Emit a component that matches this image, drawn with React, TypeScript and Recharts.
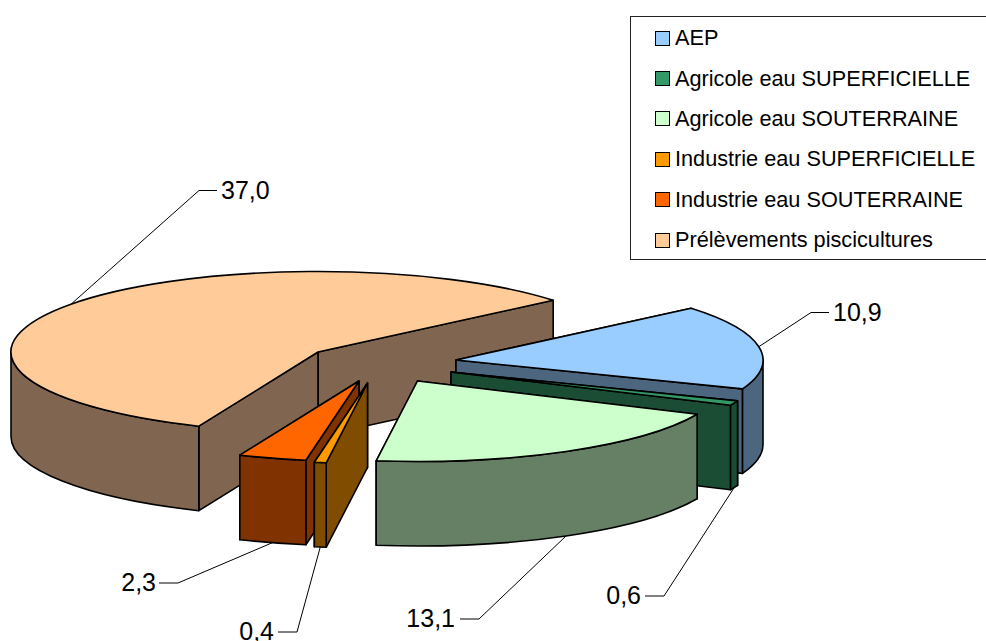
import React from 'react';
import { PieChart, Pie, Legend } from 'recharts';

// Water withdrawal shares, in legend order
const categories = [
  'AEP',
  'Agricole eau SUPERFICIELLE',
  'Agricole eau SOUTERRAINE',
  'Industrie eau SUPERFICIELLE',
  'Industrie eau SOUTERRAINE',
  'Prélèvements piscicultures',
];
const values = [10.9, 0.6, 13.1, 0.4, 2.3, 37.0];
const valueLabels = ['10,9', '0,6', '13,1', '0,4', '2,3', '37,0'];
const topColors = ['#99CCFF', '#339966', '#CCFFCC', '#FF9900', '#FF6600', '#FFCC99'];
const wallColors = ['#4D6680', '#1A4D33', '#668066', '#804D00', '#803300', '#806650'];

// Tilted-disc projection and per-slice explosion, relative to the pie centre
const RX = 307;
const TILT = 80.5 / 307;
const DEPTH = 84.5;
const explode = [
  [138, 8],
  [133, 20],
  [99.5, 29],
  [49.5, 31],
  [41, 29],
  [0, 0],
];
// Leader elbow (x, y), end of the leader, text x and anchor for each slice
const leaders = [
  [811, 312.5, 829, 833, 'start'],
  [664, 596, 645, 641, 'end'],
  [479, 619, 460, 455, 'end'],
  [297, 632, 278, 274, 'end'],
  [178, 583, 159, 156, 'end'],
  [199, 190.5, 217, 221, 'start'],
];

// Painting layers from back to front: each one is its own Pie over the same angles
const paintLayers = [[5], [0, 1, 2], [4], [3]];
const tableData = categories.map((name, i) => ({ name, value: values[i], idx: i }));

const RAD = Math.PI / 180;

function makeSliceShape(layer: number[]) {
  return function SliceShape(props: any) {
    const { cx, cy, startAngle, endAngle, payload } = props;
    const idx = payload?.idx ?? props.idx;
    if (!layer.includes(idx)) return null;
    const ox = cx + explode[idx][0];
    const oy = cy + explode[idx][1];
    const ry = RX * TILT;
    const pt = (deg: number, d = 0): [number, number] => [
      ox + RX * Math.cos(deg * RAD),
      oy - ry * Math.sin(deg * RAD) + d,
    ];
    const f = (p: [number, number]) => `${p[0].toFixed(2)} ${p[1].toFixed(2)}`;
    const hi = Math.max(startAngle, endAngle);
    const lo = Math.min(startAngle, endAngle);
    const stroke = { stroke: '#000', strokeWidth: 1.6, strokeLinejoin: 'round' as const };

    const arc = (from: number, to: number, d = 0, sweep = 1) =>
      `A ${RX} ${ry} 0 ${Math.abs(to - from) > 180 ? 1 : 0} ${sweep} ${f(pt(to, d))}`;

    const radial = (deg: number) =>
      `M ${ox} ${oy} L ${f(pt(deg))} L ${f(pt(deg, DEPTH))} L ${ox} ${oy + DEPTH} Z`;

    // The radial face nearer the viewer (closest to straight down) goes on last
    const offFront = (deg: number) => {
      const a = ((deg % 360) + 360) % 360;
      return Math.abs(a - 270);
    };
    const faces = [hi, lo].sort((a, b) => offFront(b) - offFront(a));

    // The outer wall only shows over the near half of the rim (180..360 degrees)
    const spans: [number, number][] = [];
    for (const shift of [0, -360, 360]) {
      const a = Math.max(lo + shift, 180);
      const b = Math.min(hi + shift, 360);
      if (b > a) spans.push([a, b]);
    }
    const rim = spans.map(
      ([a, b]) => `M ${f(pt(b))} ${arc(b, a)} L ${f(pt(a, DEPTH))} ${arc(a, b, DEPTH, 0)} Z`,
    );

    const top = `M ${ox} ${oy} L ${f(pt(hi))} ${arc(hi, lo)} Z`;
    const wall = wallColors[idx];

    return (
      <g>
        {faces.map((deg) => (
          <path key={deg} d={radial(deg)} fill={wall} {...stroke} />
        ))}
        {rim.map((d) => (
          <path key={d} d={d} fill={wall} {...stroke} />
        ))}
        <path d={top} fill={topColors[idx]} {...stroke} />
      </g>
    );
  };
}

function SliceLabel(props: any) {
  const { cx, cy, midAngle, payload } = props;
  const idx = payload?.idx ?? props.idx;
  const ox = cx + explode[idx][0];
  const oy = cy + explode[idx][1];
  const near = Math.sin(midAngle * RAD) < 0 ? DEPTH : 0;
  const sx = ox + RX * Math.cos(midAngle * RAD);
  const sy = oy - RX * TILT * Math.sin(midAngle * RAD) + near;
  const [ex, ey, lineEnd, tx, anchor] = leaders[idx] as [number, number, number, number, 'start' | 'end'];
  return (
    <g>
      <polyline
        points={`${sx},${sy} ${ex},${ey} ${lineEnd},${ey}`}
        fill="none"
        stroke="#000"
        strokeWidth={1}
      />
      <text
        x={tx}
        y={ey}
        dy="0.33em"
        textAnchor={anchor}
        fontFamily="Liberation Sans, Arial, sans-serif"
        fontSize={25}
        fill="#000"
      >
        {valueLabels[idx]}
      </text>
    </g>
  );
}

function LegendBox() {
  return (
    <div
      style={{
        boxSizing: 'border-box',
        width: 356,
        height: 244,
        border: '1px solid #222',
        borderRight: 'none',
        background: '#fff',
        fontFamily: 'Liberation Sans, Arial, sans-serif',
        fontSize: 21.7,
        color: '#000',
        paddingTop: 1,
      }}
    >
      {categories.map((name, i) => (
        <div
          key={name}
          style={{ height: 40.4, display: 'flex', alignItems: 'center', paddingLeft: 24, whiteSpace: 'nowrap' }}
        >
          <span
            style={{
              boxSizing: 'border-box',
              width: 15,
              height: 15,
              marginRight: 5,
              border: '1.5px solid #000',
              background: topColors[i],
              flex: 'none',
            }}
          />
          {name}
        </div>
      ))}
    </div>
  );
}

export default function App() {
  return (
    <div style={{ position: 'absolute', left: 0, top: 0, width: 986, height: 641, background: '#fff' }}>
      <PieChart width={986} height={641} margin={{ top: 0, right: 0, bottom: 0, left: 0 }}>
        {paintLayers.map((layer, n) => (
          <Pie
            key={n}
            data={tableData}
            dataKey="value"
            nameKey="name"
            cx={318}
            cy={352}
            outerRadius={RX}
            startAngle={40}
            endAngle={-320}
            stroke="none"
            isAnimationActive={false}
            shape={makeSliceShape(layer)}
            label={n === paintLayers.length - 1 ? SliceLabel : false}
            labelLine={false}
          />
        ))}
        <Legend
          layout="vertical"
          content={<LegendBox />}
          wrapperStyle={{ position: 'absolute', left: 630, top: 16, width: 356, height: 244, margin: 0 }}
        />
      </PieChart>
    </div>
  );
}
